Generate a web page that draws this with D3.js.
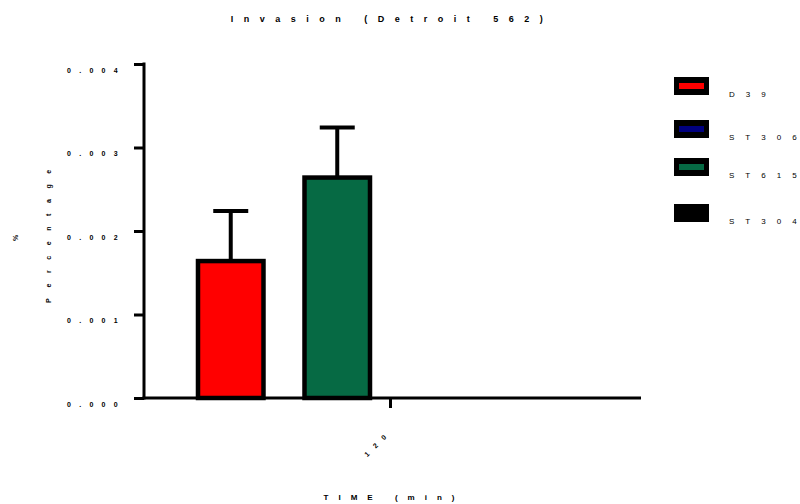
<!DOCTYPE html>
<html>
<head>
<meta charset="utf-8">
<script src="https://cdn.jsdelivr.net/npm/d3@7/dist/d3.min.js"></script>
<style>
  html, body { margin: 0; padding: 0; background: #fff; }
  svg { display: block; }
  text { font-family: "Liberation Sans", Arial, sans-serif; fill: #000; }
</style>
</head>
<body>
<svg id="chart" width="800" height="504"></svg>
<script>
// Time points (x categories)
const timePoints = ["120"];
// Strains, in legend order
const strains = ["D39", "ST306", "ST615", "ST304"];
// Order in which the strains sit inside each time group
const groupOrder = ["D39", "ST615", "ST306", "ST304"];
// Mean percentage invasion at 120 min (null = not measured)
const meanValues = [0.00164, null, 0.00264, null];
// Error (upper bar) for each strain
const errValues = [0.00060, null, 0.00060, null];
// Y tick values and labels
const yTicks = [0, 0.001, 0.002, 0.003, 0.004];
const yTickLabels = ["0.000", "0.001", "0.002", "0.003", "0.004"];
// Strain fill colours
const strainColors = ["#ff0000", "#00007f", "#066a44", "#000000"];

const svg = d3.select("#chart");

// Plot area
const plotLeft = 144, plotRight = 641, plotTop = 64, plotBottom = 398;

const y = d3.scaleLinear().domain([0, 0.004]).range([plotBottom, plotTop]);
const x = d3.scaleBand().domain(timePoints).range([plotLeft - 3, plotRight - 1]).padding(0.0789);
const xSub = d3.scaleBand().domain(groupOrder).range([0, x.bandwidth()])
  .paddingInner(0.385).paddingOuter(0.1925);
const color = d3.scaleOrdinal().domain(strains).range(strainColors);

const rows = strains.map((s, i) => ({
  strain: s, time: timePoints[0], mean: meanValues[i], err: errValues[i]
})).filter(d => d.mean != null);

// Bars
const barStroke = 4.5;
svg.append("g").selectAll("rect").data(rows).join("rect")
  .attr("x", d => x(d.time) + xSub(d.strain))
  .attr("width", xSub.bandwidth())
  .attr("y", d => y(d.mean))
  .attr("height", d => y(0) - y(d.mean))
  .attr("fill", d => color(d.strain))
  .attr("stroke", "#000")
  .attr("stroke-width", barStroke);

// Error bars (upper only)
const eb = svg.append("g").attr("stroke", "#000").attr("stroke-width", 4);
rows.forEach(d => {
  const cx = x(d.time) + xSub(d.strain) + xSub.bandwidth() / 2;
  eb.append("line").attr("x1", cx).attr("x2", cx)
    .attr("y1", y(d.mean)).attr("y2", y(d.mean + d.err));
  eb.append("line").attr("x1", cx - 17.5).attr("x2", cx + 17.5)
    .attr("y1", y(d.mean + d.err)).attr("y2", y(d.mean + d.err));
});

// Y axis
const yAxis = d3.axisLeft(y).tickValues(yTicks)
  .tickFormat((d, i) => yTickLabels[i]).tickSize(10).tickPadding(0);
const gy = svg.append("g").attr("transform", `translate(${plotLeft},0)`).call(yAxis);
gy.select(".domain").attr("stroke", "#000").attr("stroke-width", 3)
  .attr("d", `M0,${plotTop - 1.5}V${plotBottom + 1.5}`);
gy.selectAll(".tick line").attr("stroke", "#000").attr("stroke-width", 3);
gy.selectAll(".tick text")
  .attr("x", -18).attr("dy", "1.2em")
  .style("font-size", "7px").style("font-weight", "bold")
  .style("letter-spacing", "8.3px")
  .attr("text-anchor", "end");

// X axis
const xAxis = d3.axisBottom(x).tickSize(10).tickPadding(0);
const gx = svg.append("g").attr("transform", `translate(0,${plotBottom})`).call(xAxis);
gx.select(".domain").attr("stroke", "#000").attr("stroke-width", 3)
  .attr("d", `M${plotLeft - 1.5},0H${plotRight}`);
gx.selectAll(".tick line").attr("stroke", "#000").attr("stroke-width", 3);
gx.selectAll(".tick text")
  .attr("text-anchor", "end")
  .attr("transform", "translate(2,34) rotate(-45)")
  .attr("y", 0).attr("dy", 0)
  .style("font-size", "7px").style("font-weight", "bold")
  .style("letter-spacing", "8px");
gx.selectAll("text").attr("fill", "#000");
gy.selectAll("text").attr("fill", "#000");

// Title
svg.append("text").attr("x", 392).attr("y", 22)
  .attr("text-anchor", "middle")
  .style("font-size", "9px").style("font-weight", "bold")
  .style("letter-spacing", "10.5px")
  .text("Invasion (Detroit 562)");

// Axis titles
svg.append("text").attr("x", 394).attr("y", 500)
  .attr("text-anchor", "middle")
  .style("font-size", "8px").style("font-weight", "bold")
  .style("letter-spacing", "10px")
  .text("TIME (min)");

svg.append("text")
  .attr("transform", "translate(51,231) rotate(-90)")
  .attr("text-anchor", "middle")
  .style("font-size", "7px").style("font-weight", "bold")
  .style("letter-spacing", "10.6px")
  .text("Percentage");

svg.append("text")
  .attr("transform", "translate(18,238) rotate(-90)")
  .attr("text-anchor", "middle")
  .style("font-size", "7px").style("font-weight", "bold")
  .text("%");

// Legend
const legendRowTop = [77, 120, 158, 204];
const lg = svg.append("g");
strains.forEach((s, i) => {
  const ty = legendRowTop[i];
  lg.append("rect").attr("x", 674).attr("y", ty).attr("width", 35).attr("height", 18)
    .attr("fill", "#000");
  lg.append("rect").attr("x", 679).attr("y", ty + 6).attr("width", 25).attr("height", 6)
    .attr("fill", color(s));
  const t = lg.append("text").attr("x", 729).attr("y", ty + 20)
    .style("font-size", "8px");
  // spaced lettering, without trailing space after the last glyph
  t.append("tspan").style("letter-spacing", "11px").text(s.slice(0, -1));
  t.append("tspan").text(s.slice(-1));
});
</script>
</body>
</html>
